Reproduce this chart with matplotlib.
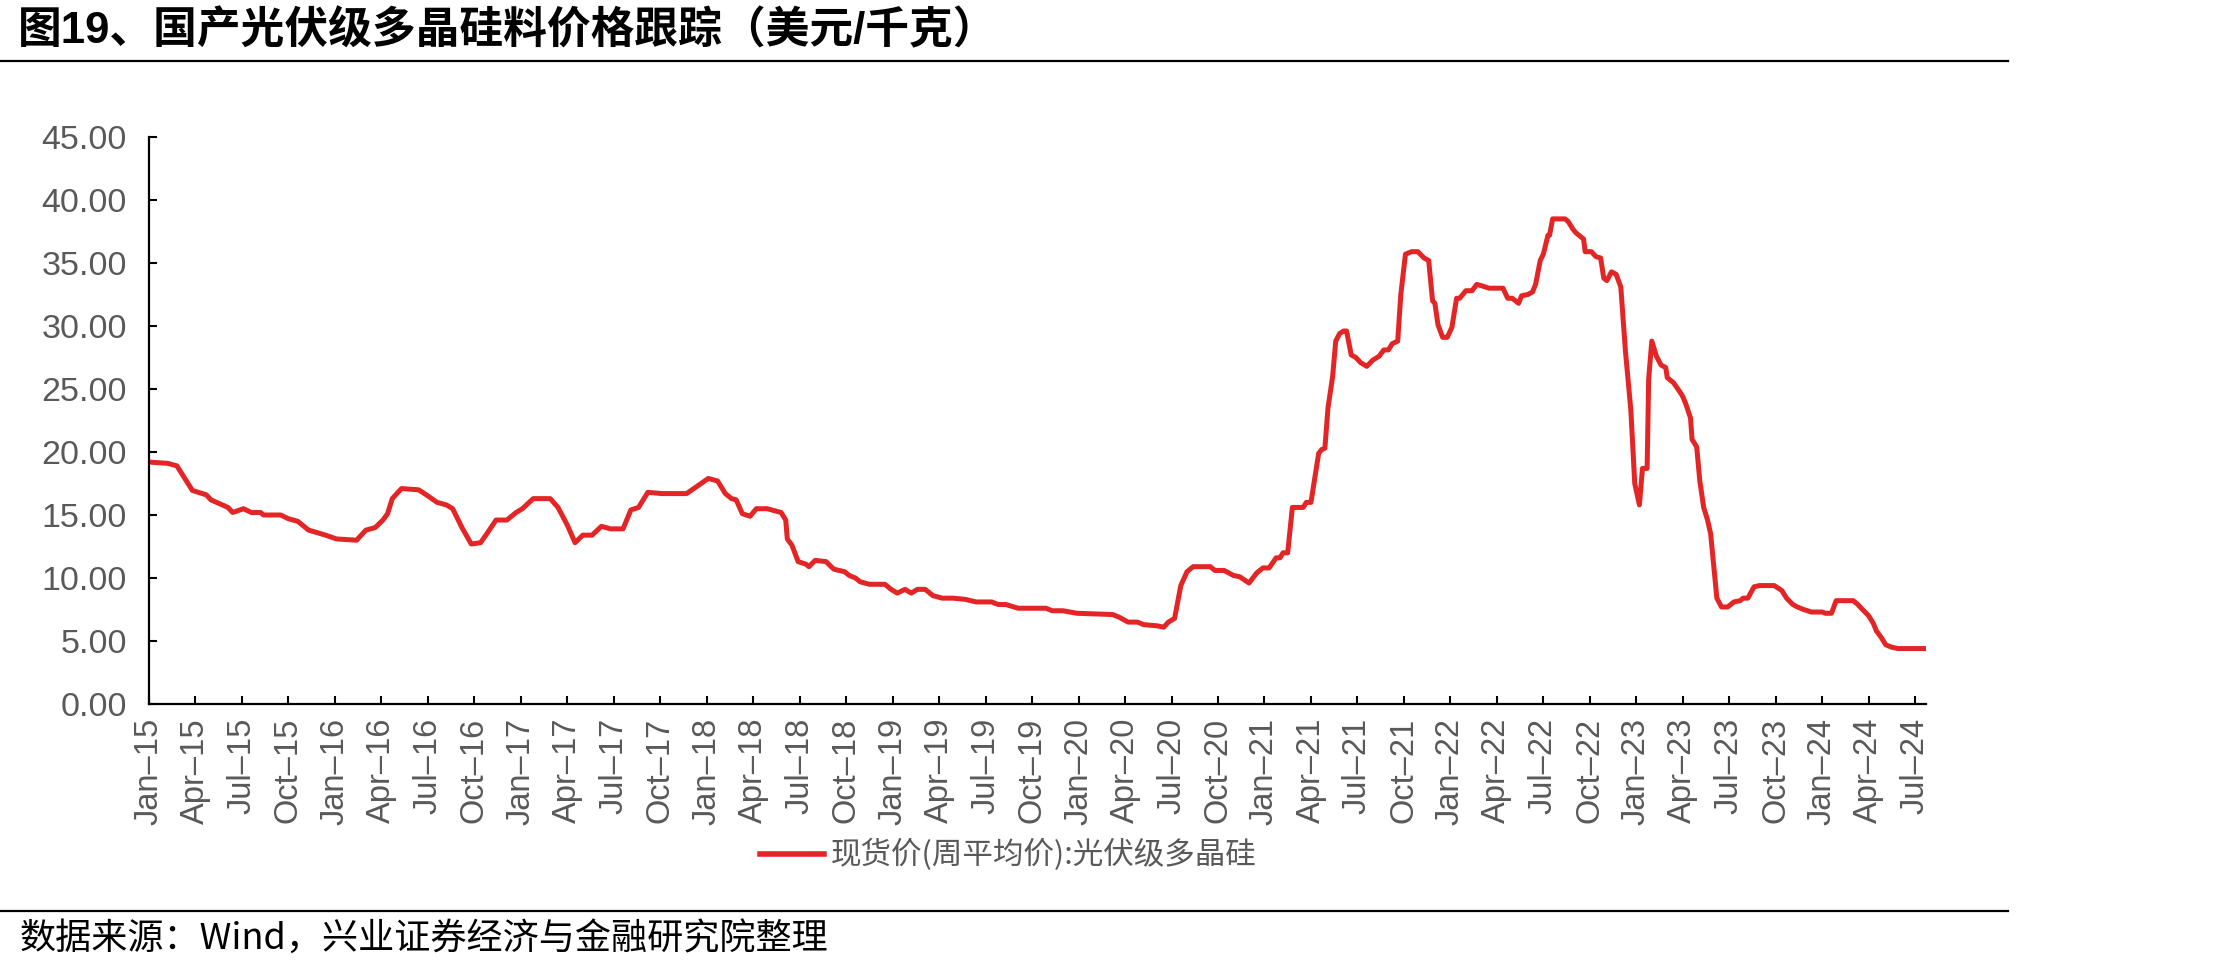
import matplotlib
matplotlib.use("Agg")
import matplotlib.pyplot as plt
from matplotlib.lines import Line2D

plt.rcParams['font.family'] = ['Liberation Sans', 'Noto Sans CJK SC', 'DejaVu Sans']

# months since Jan-2015, spot price USD/kg
month_idx = [
    0, 1.2, 1.8, 2.8, 3.7, 4.0, 5.1, 5.4, 6.1, 6.6, 7.2, 7.4, 8.5, 9.0, 9.6,
    10.3, 11.4, 12.1, 13.4, 14.0, 14.6, 15.1, 15.4, 15.7, 16.3, 17.4, 17.9,
    18.6, 19.2, 19.6, 20.2, 20.8, 21.4, 21.8, 22.4, 23.1, 23.7, 24.1, 24.8,
    25.9, 26.4, 27.0, 27.5, 28.0, 28.6, 29.2, 29.8, 30.6, 31.1, 31.6, 32.2,
    33.1, 34.7, 35.4, 36.1, 36.7, 37.2, 37.6, 37.9, 38.3, 38.8, 39.2, 39.9,
    40.8, 41.1, 41.2, 41.5, 41.9, 42.4,
    42.6, 43.0, 43.7, 44.2, 44.9, 45.2, 45.6, 45.9, 46.5, 47.5, 47.9, 48.3,
    48.8, 49.2, 49.6, 50.1, 50.6, 51.2, 51.9, 52.7, 53.4, 54.4, 54.8, 55.3,
    56.1, 57.9, 58.3, 59.0, 59.9, 62.2, 62.6, 63.2, 63.8, 64.2, 65.1, 65.5,
    65.8, 66.2, 66.6, 67.0, 67.4, 68.5, 68.8, 69.4, 70.0, 70.4, 71.0,
    71.5, 71.9, 72.3, 72.75, 73.0, 73.2, 73.5, 73.8, 74.5, 74.7, 75.0, 75.5,
    75.7, 75.9, 76.1, 76.4, 76.6, 76.85, 77.1, 77.3, 77.6, 77.9, 78.2, 78.6,
    79.0, 79.4, 79.7, 80.0, 80.25, 80.6, 80.8, 81.1, 81.5, 81.9, 82.3, 82.6,
    82.85, 83.0, 83.2, 83.5, 83.8, 84.1, 84.4, 84.6, 85.0, 85.4, 85.7, 86.0,
    86.5, 87.4, 87.7, 88.0, 88.4, 88.6, 89.0, 89.3, 89.5, 89.8, 90.0, 90.3,
    90.4, 90.6, 91.4, 91.6, 91.9, 92.1, 92.6, 92.7, 93.1, 93.4, 93.7, 93.9,
    94.1, 94.4, 94.7, 95.0, 95.3, 95.65, 95.9, 96.2, 96.4, 96.7, 96.8, 97.0,
    97.3, 97.6, 97.9, 98.0, 98.4, 98.8, 99.0, 99.2, 99.5, 99.6, 99.9, 100.1,
    100.35, 100.6, 100.8, 101.2, 101.5, 101.9, 102.3, 102.7, 102.9, 103.2,
    103.6, 103.95, 104.9, 105.4, 105.7, 106.1, 106.4, 106.8, 107.3, 108.0,
    108.2, 108.6, 108.9, 110.0, 110.3, 110.6, 111.0, 111.3, 111.5, 111.8,
    112.1, 112.5, 112.9, 114.7,
]
price = [
    19.2, 19.1, 18.9, 16.95, 16.6, 16.2, 15.6, 15.2, 15.5, 15.2, 15.2, 15.0,
    15.0, 14.7, 14.5, 13.8, 13.4, 13.1, 13.0, 13.8, 14.0, 14.6, 15.1, 16.3,
    17.1, 17.0, 16.6, 16.0, 15.8, 15.5, 14.0, 12.7, 12.8, 13.5, 14.6, 14.6,
    15.2, 15.5, 16.3, 16.3, 15.6, 14.2, 12.8, 13.4, 13.4, 14.1, 13.9, 13.9,
    15.4, 15.6, 16.8, 16.7, 16.7, 17.3, 17.9, 17.7, 16.7, 16.3, 16.2, 15.1,
    14.9, 15.5, 15.5, 15.2, 14.6, 13.1, 12.6, 11.3, 11.1,
    10.9, 11.4, 11.3, 10.7, 10.5, 10.2, 10.0, 9.7, 9.5, 9.5, 9.1, 8.8,
    9.1, 8.8, 9.1, 9.1, 8.6, 8.4, 8.4, 8.3, 8.1, 8.1, 7.9, 7.9,
    7.6, 7.6, 7.4, 7.4, 7.2, 7.1, 6.9, 6.5, 6.5, 6.3, 6.2, 6.1,
    6.5, 6.8, 9.4, 10.5, 10.9, 10.9, 10.6, 10.6, 10.2, 10.1, 9.6,
    10.4, 10.8, 10.8, 11.6, 11.6, 12.0, 12.0, 15.6, 15.6, 16.0, 16.0, 19.9,
    20.2, 20.3, 23.5, 26.0, 28.8, 29.4, 29.6, 29.6, 27.7, 27.5, 27.1, 26.8,
    27.3, 27.6, 28.1, 28.1, 28.6, 28.8, 32.5, 35.7, 35.9, 35.9, 35.4, 35.2,
    32.0, 31.8, 30.1, 29.1, 29.1, 29.9, 32.2, 32.2, 32.8, 32.8, 33.3, 33.2,
    33.0, 33.0, 32.2, 32.2, 31.8, 32.4, 32.5, 32.7, 33.3, 35.2, 35.7, 37.2,
    37.2, 38.5, 38.5, 38.3, 37.7, 37.4, 36.9, 35.9, 35.9, 35.5, 35.4, 33.8,
    33.6, 34.3, 34.1, 33.1, 28.0, 23.3, 17.5, 15.8, 18.7, 18.7, 25.8, 28.8,
    27.6, 26.9, 26.7, 25.9, 25.5, 24.8, 24.4, 23.8, 22.7, 21.0, 20.4, 17.7,
    15.6, 14.6, 13.5, 8.4, 7.7, 7.7, 8.1, 8.2, 8.4, 8.4,
    9.3, 9.4, 9.4, 9.0, 8.4, 7.9, 7.7, 7.5, 7.3, 7.3,
    7.2, 7.2, 8.2, 8.2, 7.9, 7.5, 7.0, 6.4, 5.8, 5.3,
    4.7, 4.5, 4.4, 4.4,
]

month_names = ['Jan', 'Apr', 'Jul', 'Oct']
years = list(range(15, 25))
tick_pos = list(range(0, 115, 3))
tick_labels = [month_names[(p // 3) % 4] + '\u2013' + str(years[p // 12]) for p in tick_pos]
y_ticks = [0, 5, 10, 15, 20, 25, 30, 35, 40, 45]

title = '图19、国产光伏级多晶硅料价格跟踪（美元/千克）'
series_name = '现货价(周平均价):光伏级多晶硅'
source = '数据来源：Wind，兴业证券经济与金融研究院整理'

red = '#E32526'
gray = '#595959'

fig = plt.figure(figsize=(22.21, 9.72), dpi=100)
ax = fig.add_axes([149/2221, 1-704/972, (1926-149)/2221, (704-137)/972])

ax.plot(month_idx, price, color=red, lw=3.6, solid_joinstyle='round')

ax.set_xlim(0, 114.7)
ax.set_ylim(0, 45)
ax.set_yticks(y_ticks)
ax.set_yticklabels(['%.2f' % v for v in y_ticks])
ax.set_xticks(tick_pos)
ax.set_xticklabels(tick_labels, rotation=90)

for s in ['top', 'right']:
    ax.spines[s].set_visible(False)
for s in ['left', 'bottom']:
    ax.spines[s].set_linewidth(1.6)
    ax.spines[s].set_color('black')

ax.tick_params(axis='both', direction='in', length=6, width=1.5, colors='black',
               labelcolor=gray)
ax.tick_params(axis='y', labelsize=24.5, pad=16)
ax.tick_params(axis='x', labelsize=23.5, pad=10)

# legend below the plot
handle = Line2D([], [], color=red, lw=4)
fig.legend([handle], [series_name], loc='center', bbox_to_anchor=(0.454, 0.12),
           frameon=False, handlelength=2.1, handletextpad=0.2,
           labelcolor=gray, prop={'family': ['Noto Sans CJK SC'], 'size': 22})

# title, rules and source
fig.text(0.008, 1-31/972, title, fontsize=31.5, fontweight='bold', va='center',
         family=['Liberation Sans', 'Noto Sans CJK SC'])
fig.add_artist(Line2D([0, 2008/2221], [1-61/972]*2, color='black', lw=1.6))
fig.add_artist(Line2D([0, 2008/2221], [1-911/972]*2, color='black', lw=1.6))
fig.text(0.009, 1-939/972, source, fontsize=26, va='center',
         family=['Noto Sans CJK SC', 'DejaVu Sans'])

fig.savefig('out.png', dpi=100)
